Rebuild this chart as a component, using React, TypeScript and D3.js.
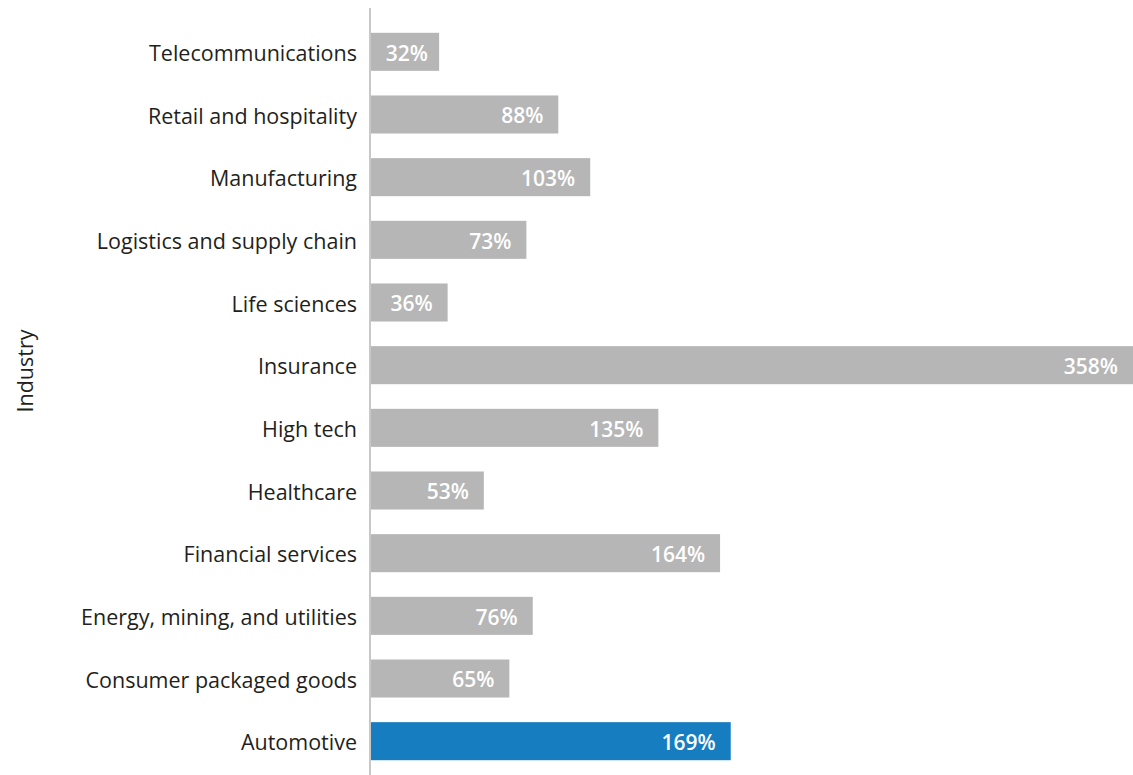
import React from "react";
import * as d3 from "d3";

const categories = [
  "Telecommunications",
  "Retail and hospitality",
  "Manufacturing",
  "Logistics and supply chain",
  "Life sciences",
  "Insurance",
  "High tech",
  "Healthcare",
  "Financial services",
  "Energy, mining, and utilities",
  "Consumer packaged goods",
  "Automotive",
];
const values = [32, 88, 103, 73, 36, 358, 135, 53, 164, 76, 65, 169];
const highlight = ["Automotive"];
const axisTitle = "Industry";

const W = 1133;
const H = 775;
const FONT = "'Open Sans', 'Noto Sans', sans-serif";

export default function App() {
  const x = d3.scaleLinear().domain([0, 358]).range([371, 1133]);
  const y = d3
    .scaleBand<string>()
    .domain(categories)
    .range([14, 779])
    .paddingInner(0.393)
    .paddingOuter(0.3);

  return (
    <svg
      width={W}
      height={H}
      style={{ position: "absolute", left: 0, top: 0, background: "#fff" }}
    >
      {categories.map((c, i) => {
        const v = values[i];
        const yy = y(c)!;
        const bw = y.bandwidth();
        const x0 = x(0);
        const x1 = x(v);
        const isHi = highlight.includes(c);
        return (
          <g key={c}>
            <rect
              x={x0}
              y={yy}
              width={x1 - x0}
              height={bw}
              fill={isHi ? "#167dc1" : "#b6b6b6"}
            />
            <text
              x={Math.max(x1 - 15, x0 + 57)}
              y={yy + bw / 2}
              dy="0.42em"
              textAnchor="end"
              fill="#ffffff"
              fontFamily={FONT}
              fontWeight={600}
              fontSize={21}
            >
              {v}%
            </text>
            <text
              x={357}
              y={yy + bw / 2}
              dy="0.42em"
              textAnchor="end"
              fill="#231f20"
              fontFamily={FONT}
              fontSize={21.5}
            >
              {c}
            </text>
          </g>
        );
      })}
      <line x1={370} x2={370} y1={8} y2={775} stroke="#c8c8c8" strokeWidth={2} />
      <text
        transform={`translate(33, 371) rotate(-90)`}
        textAnchor="middle"
        fill="#231f20"
        fontFamily={FONT}
        fontSize={21.5}
      >
        {axisTitle}
      </text>
    </svg>
  );
}
